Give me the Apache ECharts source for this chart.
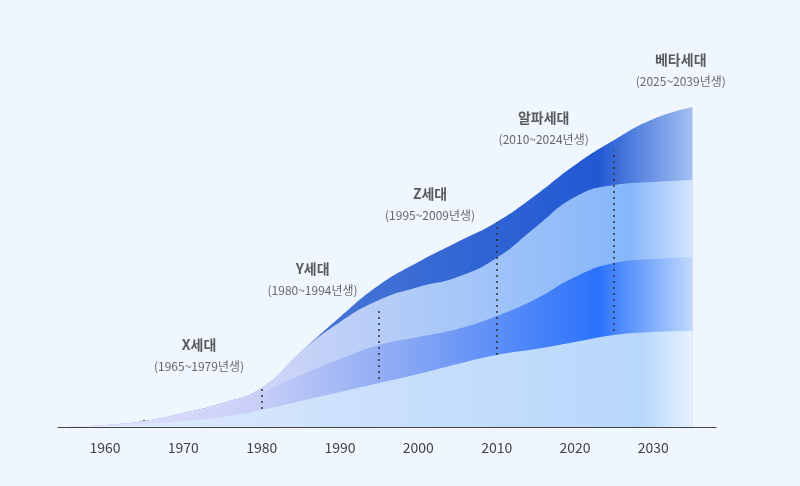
<!DOCTYPE html>
<html><head><meta charset="utf-8">
<script src="https://cdn.jsdelivr.net/npm/echarts@6/dist/echarts.min.js"></script>
<style>html,body{margin:0;background:#f0f6fe}#c{width:800px;height:486px}</style>
</head><body><div id="c"></div>
<script>
var years = [1955,1960,1965,1970,1975,1980,1985,1990,1995,2000,2005,2010,2015,2020,2025,2030,2035];
// layer thicknesses, bottom to top
var layer1 = [0,1,3,6,10,17,26,35,44,53,63,72,78,85,92,95,96];
var layer2 = [0,1,2,6,12,18,26,33,38,37,35,39,50,65,72,73,74];
var layer3 = [0,0,1,2,2,4,23,37,45,50,52,58,72,80,78,77,77];
var layer4 = [0,0,0,0,0,0,0,5,15,25,35,36,32,32,45,63,73];
var gens = ['X세대','Y세대','Z세대','알파세대','베타세대'];
var genRange = ['1965~1979년생','1980~1994년생','1995~2009년생','2010~2024년생','2025~2039년생'];
var genStart = [1965,1980,1995,2010,2025];
var lineTop = [7,42,119,205,277];
var labelPos = [[1972,73],[1986.5,149],[2001.5,224],[2016,300],[2033.5,358]];

var myChart = echarts.init(document.getElementById('c'));

function grad(stops){
  return {type:'linear',x:0,y:0,x2:1,y2:0,colorStops:stops.map(function(s){return {offset:s[0],color:s[1]};})};
}
// cumulative sums so each area is drawn down to the baseline, top layer first
var layers = [layer1,layer2,layer3,layer4];
var cum = [];
var run = years.map(function(){return 0;});
layers.forEach(function(l){
  run = run.map(function(v,i){return v + l[i];});
  cum.push(run.slice());
});
function series(name, data, stops){
  return {
    name:name, type:'line', smooth:true, symbol:'none',
    lineStyle:{width:0}, areaStyle:{color:grad(stops),opacity:1},
    data: years.map(function(y,i){return [y,data[i]];})
  };
}
var s1 = series('l1',cum[0],[[0,'#e4ecfd'],[0.4,'#cfe2fc'],[0.92,'#b7d7fb'],[1,'#e8f2fe']]);
var s2 = series('l2',cum[1],[[0,'#e6e6fb'],[0.3,'#c9cff8'],[0.55,'#86a6f4'],[0.85,'#2a72fb'],[1,'#c2dafc']]);
var s3 = series('l3',cum[2],[[0,'#e6e6fb'],[0.35,'#cbd4f7'],[0.6,'#a9c8f8'],[0.9,'#86b6fa'],[1,'#d4e6fd']]);
var s4 = series('l4',cum[3],[[0,'#6d8ad0'],[0.5,'#3f6fd5'],[0.85,'#2159d3'],[1,'#a4c0f2']]);
s1.markLine = {
  silent:true, symbol:'none',
  lineStyle:{type:[2,4],color:'#333',width:1.5},
  label:{show:false},
  data: genStart.map(function(g,i){return [{coord:[g,0]},{coord:[g,lineTop[i]]}];})
};
s1.z = 5;
var labels = {
  type:'scatter', symbolSize:0, silent:true, z:6,
  data: labelPos.map(function(p,i){return {value:p, name:gens[i], range:genRange[i]};}),
  label:{show:true, position:'inside',
    formatter:function(p){return '{t|'+p.data.name+'}\n{s|('+p.data.range+')}';},
    rich:{t:{fontSize:14,fontWeight:'bold',color:'#333',lineHeight:24},
          s:{fontSize:12,color:'#444',lineHeight:18}}}
};

myChart.setOption({
  backgroundColor:'#f0f6fe',
  textStyle:{fontFamily:'"Noto Sans CJK KR","Noto Sans",sans-serif'},
  animation:false,
  grid:{left:58,right:84,top:27,bottom:59},
  xAxis:{type:'value',min:1954,max:2038,interval:2,
    splitLine:{show:false},axisTick:{show:false},
    axisLine:{lineStyle:{color:'#444'}},
    axisLabel:{color:'#444',fontSize:14,margin:14,
      formatter:function(v){return v%10===0?String(v):'';}}},
  yAxis:{type:'value',min:0,max:400,show:false},
  series:[s4,s3,s2,s1,labels]
});
</script></body></html>
